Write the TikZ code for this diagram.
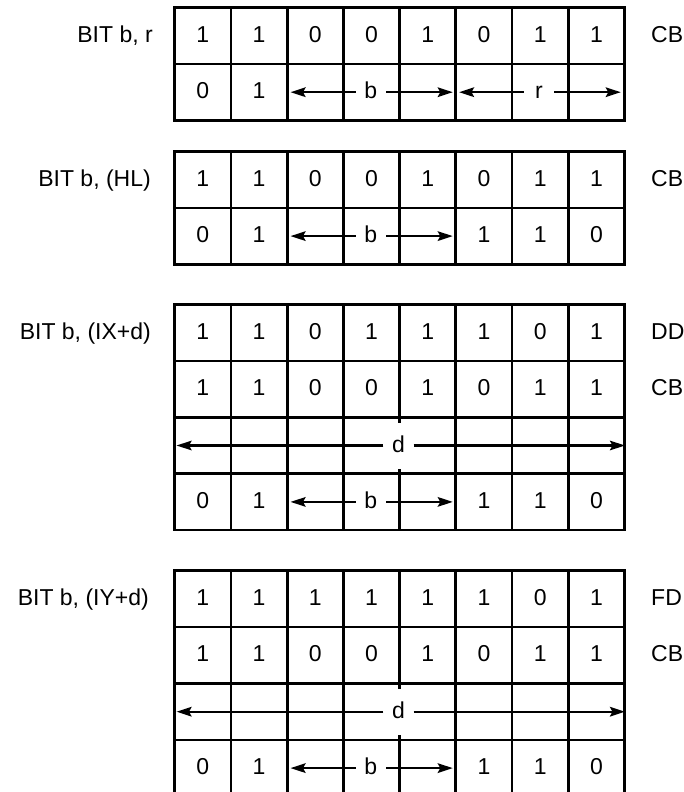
\documentclass[tikz,border=0pt]{standalone}
\usepackage{fontspec}
\setmainfont{Liberation Sans}
\usetikzlibrary{arrows.meta}
\newcommand\gridtable[2]{% #1 top, #2 rows
  \draw[gridline] (174.7,#1) rectangle (624.5,{#1+56.4*#2});
  \foreach \k in {1,...,7}
    \draw[gridline] ({174.7+56.225*\k},#1) -- ({174.7+56.225*\k},{#1+56.4*#2});
}
\newcommand\rowline[1]{\draw[gridline] (174.7,#1) -- (624.5,#1);}
\newcommand\digrow[3]{% #1 name, #2 y, #3 list
  \foreach \v [count=\i from 0] in {#3} {%
    \if\v-\else\node[bit] (#1\i) at ({174.7+56.225*(\i+0.5)},#2) {\v};\fi}}
\begin{document}
\begin{tikzpicture}[x=1pt,y=-1pt,
  gridline/.style={line width=2.7pt},
  bit/.style={font=\fontsize{23}{27}\selectfont, inner sep=0pt, text height=13pt, text depth=0pt},
  lbl/.style={bit, fill=white, minimum width=30pt, minimum height=46pt},
  opname/.style={bit, anchor=east},
  opcode/.style={bit, anchor=west},
  arr/.style={line width=2.4pt, -{Stealth[length=15pt,width=9.5pt,inset=2.5pt]}}]
\useasboundingbox (0,0) rectangle (684,792);
\clip (0,0) rectangle (684,792);

% ---------- table 1 ----------
\gridtable{7.6}{2}
\rowline{64.0}
\node[opname] (n1) at (153,35.8) {BIT b, r};
\node[opcode] (c1) at (651,35.8) {CB};
\digrow{ta}{35.8}{1,1,0,0,1,0,1,1}
\digrow{tb}{92.2}{0,1,-,-,-,-,-,-}
\node[lbl] (b1) at (370.8,92.2) {b};
\coordinate (b1l) at (290.5,92.2);
\coordinate (b1r) at (452.8,92.2);
\draw[arr] (b1) -- (b1l);
\draw[arr] (b1) -- (b1r);
\node[lbl] (r1) at (539,92.2) {r};
\coordinate (r1l) at (459,92.2);
\coordinate (r1r) at (620.8,92.2);
\draw[arr] (r1) -- (r1l);
\draw[arr] (r1) -- (r1r);

% ---------- table 2 ----------
\gridtable{151.5}{2}
\rowline{207.9}
\node[opname] (n2) at (151,179.7) {BIT b, (HL)};
\node[opcode] (c2) at (651,179.7) {CB};
\digrow{tc}{179.7}{1,1,0,0,1,0,1,1}
\digrow{td}{236.1}{0,1,-,-,-,1,1,0}
\node[lbl] (b2) at (370.8,236.1) {b};
\coordinate (b2l) at (290.5,236.1);
\coordinate (b2r) at (452.8,236.1);
\draw[arr] (b2) -- (b2l);
\draw[arr] (b2) -- (b2r);

% ---------- table 3 ----------
\gridtable{304.5}{4}
\rowline{360.9}
\rowline{417.3}
\rowline{473.7}
\node[opname] (n3) at (151,332.7) {BIT b, (IX+d)};
\node[opcode] (c3a) at (651,332.7) {DD};
\node[opcode] (c3b) at (651,389.1) {CB};
\digrow{te}{332.7}{1,1,0,1,1,1,0,1}
\digrow{tf}{389.1}{1,1,0,0,1,0,1,1}
\node[lbl] (d3) at (398.5,445.5) {d};
\coordinate (d3l) at (176.5,445.5);
\coordinate (d3r) at (625,445.5);
\draw[arr] (d3) -- (d3l);
\draw[arr] (d3) -- (d3r);
\digrow{tg}{501.9}{0,1,-,-,-,1,1,0}
\node[lbl] (b3) at (370.8,501.9) {b};
\coordinate (b3l) at (290.5,501.9);
\coordinate (b3r) at (452.8,501.9);
\draw[arr] (b3) -- (b3l);
\draw[arr] (b3) -- (b3r);

% ---------- table 4 ----------
\gridtable{570.7}{4}
\rowline{627.1}
\rowline{683.5}
\rowline{739.9}
\node[opname] (n4) at (149,598.9) {BIT b, (IY+d)};
\node[opcode] (c4a) at (651,598.9) {FD};
\node[opcode] (c4b) at (651,655.3) {CB};
\digrow{th}{598.9}{1,1,1,1,1,1,0,1}
\digrow{ti}{655.3}{1,1,0,0,1,0,1,1}
\node[lbl] (d4) at (398.5,711.7) {d};
\coordinate (d4l) at (176.5,711.7);
\coordinate (d4r) at (625,711.7);
\draw[arr] (d4) -- (d4l);
\draw[arr] (d4) -- (d4r);
\digrow{tj}{768.1}{0,1,-,-,-,1,1,0}
\node[lbl] (b4) at (370.8,768.1) {b};
\coordinate (b4l) at (290.5,768.1);
\coordinate (b4r) at (452.8,768.1);
\draw[arr] (b4) -- (b4l);
\draw[arr] (b4) -- (b4r);
\end{tikzpicture}
\end{document}
